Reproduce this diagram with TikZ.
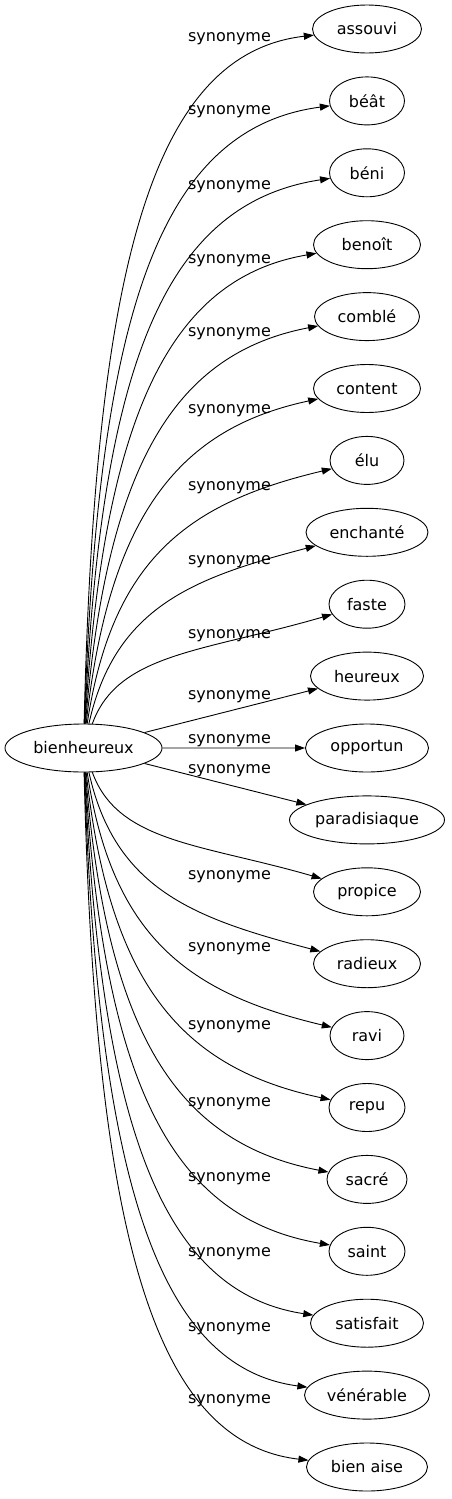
\documentclass[tikz,border=0pt]{standalone}
\usepackage{fontspec}
\setmainfont{DejaVu Sans}
\usetikzlibrary{shapes.geometric,arrows.meta}
\begin{document}
\begin{tikzpicture}[x=1pt,y=-1pt,
  word/.style={draw, ellipse, inner sep=0pt, minimum height=48pt, font=\fontsize{16}{19}\selectfont, line width=0.9pt},
  lab/.style={font=\fontsize{16}{19}\selectfont, anchor=base, inner sep=0pt},
  syn/.style={line width=0.9pt, -{Triangle[length=10pt,width=7pt]}}]
\useasboundingbox (0,0) rectangle (452,1499);
\node[word, minimum width=157pt] (b) at (83.5,748) {bienheureux};
\foreach \i/\n/\t/\w in {0/assouvi/assouvi/109, 1/beat/béât/75, 2/beni/béni/75, 3/benoit/benoît/107,
  4/comble/comblé/105, 5/content/content/107, 6/elu/élu/74, 7/enchante/enchanté/122, 8/faste/faste/76,
  9/heureux/heureux/113, 10/opportun/opportun/123, 11/paradisiaque/paradisiaque/155, 12/propice/propice/107,
  13/radieux/radieux/107, 14/ravi/ravi/74, 15/repu/repu/76, 16/sacre/sacré/80, 17/saint/saint/76,
  18/satisfait/satisfait/113, 19/venerable/vénérable/125, 20/bienaise/bien aise/121} {
  \pgfmathsetmacro\ty{29+71.9*\i}
  \node[word, minimum width=\w pt] (\n) at (367,\ty) {\t};
}
\foreach \n/\i in {assouvi/0, beat/1, beni/2, benoit/3, comble/4, content/5, elu/6, enchante/7, faste/8,
  propice/12, radieux/13, ravi/14, repu/15, sacre/16, saint/17, satisfait/18, venerable/19, bienaise/20} {
  \pgfmathsetmacro\ty{29+71.9*\i}
  \pgfmathsetmacro\dd{748-\ty}
  \pgfmathsetmacro\a{abs(\dd)}
  \pgfmathsetmacro\s{sign(\dd)}
  \pgfmathsetmacro\cax{95+0.04*(719-\a)}
  \pgfmathsetmacro\cay{748-\s*0.66*\a}
  \pgfmathsetmacro\cbx{150+0.09*(719-\a)}
  \pgfmathsetmacro\cby{\ty+\s*(25+0.04*(719-\a))}
  \draw[syn] (b) .. controls (\cax,\cay) and (\cbx,\cby) .. (\n);
}
\draw[syn] (b) -- (heureux);
\draw[syn] (b) -- (opportun);
\draw[syn] (b) -- (paradisiaque);
\foreach \j/\y in {1/41, 2/114, 3/189, 4/263, 5/336, 6/413, 7/490, 8/564, 9/638, 10/699, 11/743, 12/773,
  13/879, 14/951, 15/1029, 16/1106, 17/1181, 18/1256, 19/1331, 20/1403} {
  \node[lab] (l\j) at (229.5,\y) {synonyme};
}
\end{tikzpicture}
\end{document}
